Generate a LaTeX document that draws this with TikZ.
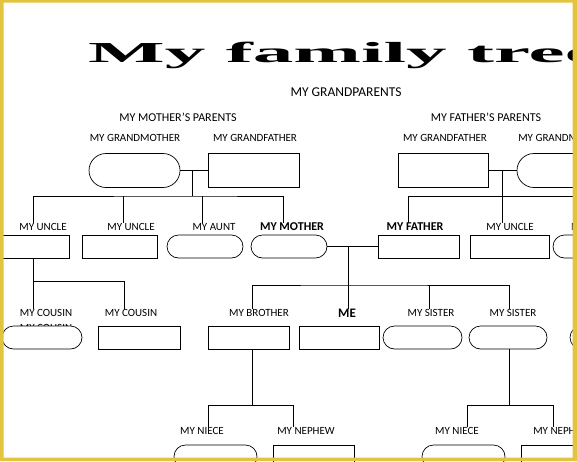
\documentclass[tikz,border=0pt]{standalone}
\usepackage{graphicx}
\usepackage{fontspec}
\setmainfont{Carlito}
\newfontfamily\titlefont{Liberation Serif}
\usetikzlibrary{shapes.misc}
\definecolor{frameyellow}{RGB}{226,196,62}
\begin{document}
\begin{tikzpicture}[x=1pt,y=-1pt,
  box/.style={draw, line width=0.8pt, rectangle, fill=white, minimum height=23pt, inner sep=0pt},
  rbox/.style={draw, line width=0.7pt, rounded rectangle, fill=white, minimum height=23pt, inner sep=0pt},
  lab/.style={font=\fontsize{11}{11}\selectfont, inner sep=0pt},
  blab/.style={font=\fontsize{12}{12}\selectfont\bfseries, inner sep=0pt},
  head/.style={font=\fontsize{12}{12}\selectfont, inner sep=0pt},
  conn/.style={line width=0.9pt}]
\useasboundingbox (0,0) rectangle (577,461);
\clip (0,0) rectangle (577,461);
\fill[white] (0,0) rectangle (577,461);

% title
\node[anchor=base west, inner sep=0pt] (title) at (88,62)
  {\scalebox{2.8}[1]{\titlefont\bfseries\fontsize{29}{29}\selectfont My family tree}};
\node[font=\fontsize{13.5}{13.5}\selectfont, inner sep=0pt] (gp) at (346,92) {MY GRANDPARENTS};

% headings
\node[head] (hm) at (178,117) {MY MOTHER’S PARENTS};
\node[head] (hf) at (486,117) {MY FATHER’S PARENTS};

% grandparent labels
\node[lab] (lgm1) at (135,138) {MY GRANDMOTHER};
\node[lab] (lgf1) at (255,138) {MY GRANDFATHER};
\node[lab] (lgf2) at (445,138) {MY GRANDFATHER};
\node[lab] (lgm2) at (563.5,138) {MY GRANDMOTHER};

% grandparent boxes
\node[rbox, minimum width=91pt, minimum height=34pt] (gm1) at (134.5,170.5) {};
\node[box, minimum width=91pt, minimum height=34pt] (gf1) at (253.5,170.5) {};
\node[box, minimum width=90pt, minimum height=34pt] (gf2) at (443,170.5) {};
\node[rbox, minimum width=90pt, minimum height=34pt] (gm2) at (562,170.5) {};

% row 2 labels
\node[lab] (lu1) at (43,227) {MY UNCLE};
\node[lab] (lu2) at (131,227) {MY UNCLE};
\node[lab] (la1) at (214,227) {MY AUNT};
\node[blab] (lmom) at (292,227) {MY MOTHER};
\node[blab] (ldad) at (415,227) {MY FATHER};
\node[lab] (lu3) at (510,227) {MY UNCLE};
\node[lab] (la2) at (592.5,227) {MY AUNT};

% row 2 boxes
\node[box, minimum width=75pt] (u1) at (31.5,246.5) {};
\node[box, minimum width=75pt] (u2) at (119.5,246.5) {};
\node[rbox, minimum width=76pt] (aunt) at (205,246.5) {};
\node[rbox, minimum width=76pt] (mom) at (289,246.5) {};
\node[box, minimum width=81pt] (dad) at (418.5,246.5) {};
\node[box, minimum width=79pt] (u3) at (509.5,246.5) {};
\node[rbox, minimum width=77pt] (a2) at (591.5,246.5) {};

% row 3 labels
\node[lab] (lc1) at (46,313) {MY COUSIN};
\node[lab] (lc1b) at (46,328) {MY COUSIN};
\node[lab] (lc2) at (131,313) {MY COUSIN};
\node[lab] (lbro) at (259,313) {MY BROTHER};
\node[font=\fontsize{13}{13}\selectfont\bfseries, inner sep=0pt] (lme) at (347,313) {ME};
\node[lab] (ls1) at (431,313) {MY SISTER};
\node[lab] (ls2) at (513,313) {MY SISTER};

% row 3 boxes
\node[rbox, minimum width=80pt] (c1) at (42,337.5) {};
\node[box, minimum width=82pt] (c2) at (139,337.5) {};
\node[box, minimum width=81pt] (bro) at (248.5,337.5) {};
\node[box, minimum width=80pt] (me) at (339,337.5) {};
\node[rbox, minimum width=79pt] (s1) at (422.5,337.5) {};
\node[rbox, minimum width=78pt] (s2) at (508,337.5) {};
\node[rbox, minimum width=80pt] (s3) at (610,337.5) {};

% row 4 labels
\node[lab] (ln1) at (202,431) {MY NIECE};
\node[lab] (lne1) at (306,431) {MY NEPHEW};
\node[lab] (ln2) at (457,431) {MY NIECE};
\node[lab] (lne2) at (562,431) {MY NEPHEW};

% row 4 boxes
\node[rbox, minimum width=83pt] (n1) at (215.5,456.5) {};
\node[box, minimum width=81pt] (ne1) at (313.5,456.5) {};
\node[rbox, minimum width=83pt] (n2) at (463.5,456.5) {};
\node[box, minimum width=79pt] (ne2) at (560.5,456.5) {};

% junction coordinates
\coordinate (jm) at (192,170.5);
\coordinate (sm) at (192,196);
\coordinate (jf) at (502,170.5);
\coordinate (jp) at (348,246.5);
\coordinate (sc) at (348,285);

% mother's parents
\draw[conn] (gm1.east) -- (gf1.west);
\draw[conn] (jm) -- (sm);
\draw[conn] (lu1.north -| 33,0) |- (sm) -| (lmom.north -| 283,0);
\draw[conn] (sm -| 123,0) -- (lu2.north -| 123,0);
\draw[conn] (sm -| 202,0) -- (la1.north -| 202,0);

% father's parents
\draw[conn] (gf2.east) -- (gm2.west);
\draw[conn] (jf) -- (lu3.north -| jf);
\draw[conn] (ldad.north -| 408,0) |- (580,196);

% parents and children
\draw[conn] (mom.east) -- (dad.west);
\draw[conn] (jp) -- (lme.north -| jp);
\draw[conn] (lbro.north -| 252,0) |- (sc) -| (ls2.north -| 509,0);
\draw[conn] (sc -| 429,0) -- (ls1.north -| 429,0);

% cousins
\draw[conn] (u1.south -| 33,0) -- (lc1.north -| 33,0);
\draw[conn] (33,281) -| (lc2.north -| 124,0);

% nieces and nephews
\draw[conn] (bro.south -| 252,0) -- (252,405);
\draw[conn] (ln1.north -| 208,0) |- (252,405) -| (lne1.north -| 293,0);
\draw[conn] (s2.south -| 509,0) -- (509,405);
\draw[conn] (ln2.north -| 467,0) |- (509,405) -| (lne2.north -| 553,0);

% yellow frame
\fill[frameyellow, even odd rule] (0,0) rectangle (577,461) (3.5,2.5) rectangle (572.5,457.5);
\end{tikzpicture}
\end{document}
